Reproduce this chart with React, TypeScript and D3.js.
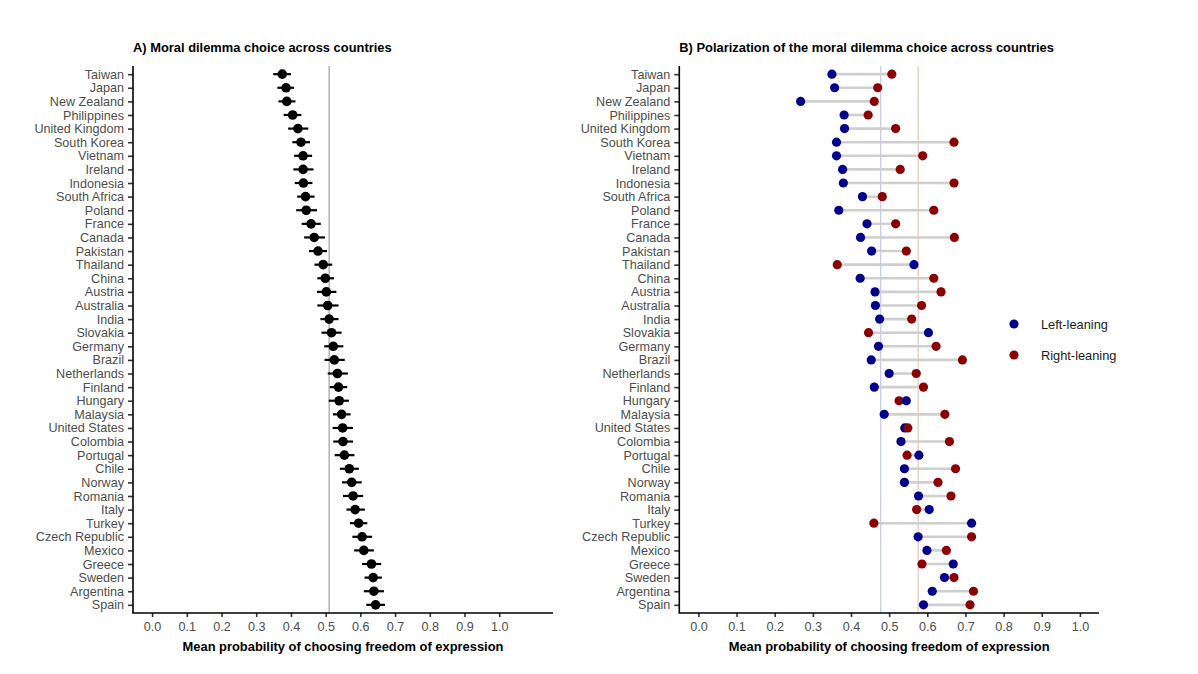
import React, { useEffect, useRef } from 'react';
import * as d3 from 'd3';

const countries = [
  'Taiwan', 'Japan', 'New Zealand', 'Philippines', 'United Kingdom', 'South Korea', 'Vietnam',
  'Ireland', 'Indonesia', 'South Africa', 'Poland', 'France', 'Canada', 'Pakistan', 'Thailand',
  'China', 'Austria', 'Australia', 'India', 'Slovakia', 'Germany', 'Brazil', 'Netherlands',
  'Finland', 'Hungary', 'Malaysia', 'United States', 'Colombia', 'Portugal', 'Chile', 'Norway',
  'Romania', 'Italy', 'Turkey', 'Czech Republic', 'Mexico', 'Greece', 'Sweden', 'Argentina', 'Spain',
];

// panel A: mean and 95% interval
const meanProb = [
  0.375, 0.386, 0.388, 0.405, 0.420, 0.429, 0.435, 0.435, 0.436, 0.442, 0.444, 0.458, 0.467,
  0.478, 0.493, 0.499, 0.502, 0.506, 0.510, 0.517, 0.522, 0.525, 0.534, 0.537, 0.539, 0.546,
  0.549, 0.550, 0.554, 0.568, 0.575, 0.579, 0.585, 0.595, 0.605, 0.610, 0.632, 0.637, 0.639, 0.644,
];
const lowerProb = [
  0.349, 0.361, 0.364, 0.379, 0.392, 0.404, 0.409, 0.407, 0.411, 0.418, 0.415, 0.431, 0.438,
  0.452, 0.468, 0.476, 0.475, 0.476, 0.485, 0.488, 0.496, 0.497, 0.506, 0.512, 0.509, 0.521,
  0.520, 0.522, 0.526, 0.541, 0.547, 0.550, 0.560, 0.570, 0.577, 0.582, 0.605, 0.612, 0.610, 0.617,
];
const upperProb = [
  0.400, 0.409, 0.413, 0.430, 0.450, 0.455, 0.461, 0.465, 0.462, 0.468, 0.475, 0.486, 0.498,
  0.504, 0.519, 0.524, 0.531, 0.537, 0.537, 0.546, 0.551, 0.555, 0.564, 0.562, 0.567, 0.572,
  0.579, 0.579, 0.583, 0.596, 0.604, 0.608, 0.613, 0.620, 0.634, 0.639, 0.660, 0.662, 0.668, 0.671,
];
const overallMean = 0.51;

// panel B: by political leaning
const leftLeaning = [
  0.350, 0.357, 0.268, 0.382, 0.383, 0.362, 0.362, 0.378, 0.380, 0.430, 0.368, 0.442, 0.425,
  0.454, 0.565, 0.424, 0.463, 0.464, 0.475, 0.603, 0.472, 0.453, 0.500, 0.461, 0.545, 0.487,
  0.541, 0.531, 0.578, 0.540, 0.540, 0.577, 0.605, 0.716, 0.576, 0.599, 0.668, 0.645, 0.613, 0.590,
];
const rightLeaning = [
  0.507, 0.470, 0.461, 0.445, 0.517, 0.670, 0.588, 0.529, 0.670, 0.482, 0.617, 0.517, 0.671,
  0.545, 0.364, 0.617, 0.636, 0.585, 0.559, 0.446, 0.623, 0.692, 0.571, 0.590, 0.526, 0.646,
  0.549, 0.658, 0.547, 0.674, 0.628, 0.662, 0.572, 0.460, 0.716, 0.650, 0.586, 0.670, 0.721, 0.712,
];
const leftMean = 0.478;
const rightMean = 0.576;

const groups = ['Left-leaning', 'Right-leaning'];
const groupColors = ['#00008B', '#8B0000'];

const xTicks = [0, 0.1, 0.2, 0.3, 0.4, 0.5, 0.6, 0.7, 0.8, 0.9, 1.0];
const titleA = 'A) Moral dilemma choice across countries';
const titleB = 'B) Polarization of the moral dilemma choice across countries';
const xTitle = 'Mean probability of choosing freedom of expression';

const W = 1198;
const H = 674;
const FONT = '"Liberation Sans", Arial, sans-serif';

const App: React.FC = () => {
  const svgRef = useRef<SVGSVGElement>(null);

  useEffect(() => {
    if (!svgRef.current) return;
    const svg = d3.select(svgRef.current);
    svg.selectAll('*').remove();

    const top = 66;
    const bottom = 613;

    const y = d3.scalePoint<string>()
      .domain(countries)
      .range([top, bottom])
      .padding(0.6);

    const xA = d3.scaleLinear().domain([-0.055, 1.155]).range([133, 553]);
    const xB = d3.scaleLinear().domain([-0.05, 1.05]).range([679.3, 1099]);

    // shared axes drawing
    function drawAxes(x: d3.ScaleLinear<number, number>, title: string) {
      const g = svg.append('g');
      const [x0, x1] = x.range();

      const yAxis = g.append('g').attr('transform', `translate(${x0},0)`)
        .call(d3.axisLeft(y).tickSize(5).tickPadding(4));
      const xAxis = g.append('g').attr('transform', `translate(0,${bottom})`)
        .call(d3.axisBottom(x).tickValues(xTicks).tickFormat(d3.format('.1f')).tickSize(4).tickPadding(5));

      [yAxis, xAxis].forEach(a => {
        a.select('.domain').remove();
        a.selectAll('.tick line').attr('stroke', '#333').attr('stroke-width', 1.6);
        a.selectAll('.tick text')
          .attr('fill', '#4d4d4d')
          .attr('font-size', 12.6)
          .attr('font-family', FONT);
      });

      g.append('line')
        .attr('x1', x0).attr('x2', x0).attr('y1', top).attr('y2', bottom)
        .attr('stroke', '#000').attr('stroke-width', 1.6);
      g.append('line')
        .attr('x1', x0 - 0.8).attr('x2', x1).attr('y1', bottom).attr('y2', bottom)
        .attr('stroke', '#000').attr('stroke-width', 1.6);

      g.append('text')
        .attr('x', (x0 + x1) / 2)
        .attr('y', 650.5)
        .attr('text-anchor', 'middle')
        .attr('font-family', FONT)
        .attr('font-size', 12.9)
        .attr('font-weight', 'bold')
        .attr('fill', '#000')
        .text(xTitle);

      g.append('text')
        .attr('x', x0)
        .attr('y', 51.5)
        .attr('font-family', FONT)
        .attr('font-size', 12.9)
        .attr('font-weight', 'bold')
        .attr('fill', '#000')
        .text(title);
    }

    // Panel A
    svg.append('line')
      .attr('x1', xA(overallMean)).attr('x2', xA(overallMean))
      .attr('y1', top).attr('y2', bottom)
      .attr('stroke', '#8c8c8c').attr('stroke-width', 1);

    drawAxes(xA, titleA);

    const gA = svg.append('g');
    gA.selectAll('line.err')
      .data(countries)
      .enter()
      .append('line')
      .attr('class', 'err')
      .attr('x1', (d, i) => xA(lowerProb[i]))
      .attr('x2', (d, i) => xA(upperProb[i]))
      .attr('y1', d => y(d)!)
      .attr('y2', d => y(d)!)
      .attr('stroke', '#000')
      .attr('stroke-width', 2.2);
    gA.selectAll('circle')
      .data(countries)
      .enter()
      .append('circle')
      .attr('cx', (d, i) => xA(meanProb[i]))
      .attr('cy', d => y(d)!)
      .attr('r', 4.8)
      .attr('fill', '#000');

    // Panel B
    svg.append('line')
      .attr('x1', xB(leftMean)).attr('x2', xB(leftMean))
      .attr('y1', top).attr('y2', bottom)
      .attr('stroke', '#b7bbe3').attr('stroke-width', 1);
    svg.append('line')
      .attr('x1', xB(rightMean)).attr('x2', xB(rightMean))
      .attr('y1', top).attr('y2', bottom)
      .attr('stroke', '#e3b7b7').attr('stroke-width', 1);

    drawAxes(xB, titleB);

    const gB = svg.append('g');
    gB.selectAll('line.seg')
      .data(countries)
      .enter()
      .append('line')
      .attr('class', 'seg')
      .attr('x1', (d, i) => xB(leftLeaning[i]))
      .attr('x2', (d, i) => xB(rightLeaning[i]))
      .attr('y1', d => y(d)!)
      .attr('y2', d => y(d)!)
      .attr('stroke', '#cfcfcf')
      .attr('stroke-width', 2.6);

    // smaller value drawn first so the larger sits on top
    const points = countries.flatMap((c, i) => {
      const pts = [
        { c, v: leftLeaning[i], k: 0 },
        { c, v: rightLeaning[i], k: 1 },
      ];
      return pts.sort((a, b) => a.v - b.v);
    });
    gB.selectAll('circle')
      .data(points)
      .enter()
      .append('circle')
      .attr('cx', d => xB(d.v))
      .attr('cy', d => y(d.c)!)
      .attr('r', 4.6)
      .attr('fill', d => groupColors[d.k]);

    // legend
    const legend = svg.append('g').attr('transform', 'translate(1014,324)');
    groups.forEach((name, i) => {
      legend.append('circle')
        .attr('cx', 0)
        .attr('cy', i * 31)
        .attr('r', 4.6)
        .attr('fill', groupColors[i]);
      legend.append('text')
        .attr('x', 27)
        .attr('y', i * 31 + 4.5)
        .attr('font-family', FONT)
        .attr('font-size', 12.8)
        .attr('fill', '#1a1a1a')
        .text(name);
    });
  }, []);

  return (
    <div style={{ position: 'absolute', left: 0, top: 0, background: '#fff' }}>
      <svg ref={svgRef} width={W} height={H} viewBox={`0 0 ${W} ${H}`} style={{ display: 'block' }} />
    </div>
  );
};

export default App;
